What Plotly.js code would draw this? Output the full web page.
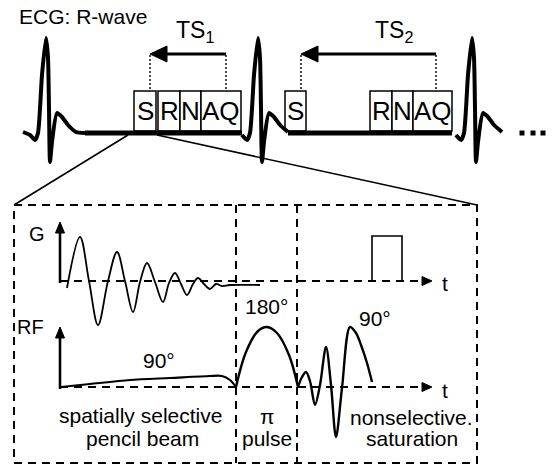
<!DOCTYPE html>
<html><head><meta charset="utf-8">
<script src="https://cdn.plot.ly/plotly-3.0.1.min.js"></script>
<style>html,body{margin:0;padding:0;background:#fff;}</style>
</head><body>
<div id="chart" style="width:557px;height:466px;"></div>
<script>
// ---- ECG trace (one beat template: x offset from R peak, y) ----
const ecgDx = [-23,-16,-11,-8,-4,0,2,3,4,6,11,16,22,30,39];
const ecgY  = [132,135,140,133,75,38,58,108,162,142,113,117,125,132,133];
const beatPeakX = [46, 258, 472];
const beatFrom  = [-23, -16, -20];
const beatTo    = [39, 30, 31];
const baselineStart = [85, 288];
const baselineEnd   = [242, 452];
const baselineY = 133;
const continueDotsX = [522, 533, 543];

// ---- sequence blocks ----
const blockLabels = ['S','R','N','AQ','S','R','N','AQ'];
const blockLeft   = [134,158,180,201,285,370,392,413];
const blockRight  = [156,180,201,241,306,392,413,452];
const blockTop = 91, blockBottom = 131;

// ---- TS arrows ----
const tsLabels = ['TS<sub>1</sub>','TS<sub>2</sub>'];
const tsLabelX = [195, 394];
const tsHeadX  = [150, 301];
const tsTailX  = [226, 436];
const tsArrowY = 54;

// ---- zoom panel ----
const zoomFromX = [128, 157];
const zoomToX   = [14, 477];
const zoomFromY = 135, zoomToY = 205;
const panelX = [14, 477, 477, 14, 14];
const panelY = [205, 205, 463, 463, 205];
const dividerX = [236, 297];

// ---- axes ----
const axisLabels = ['G','RF'];
const axisLabelX = [37, 30];
const axisLabelY = [234, 327];
const axisBaseY = [281, 387];
const axisTopY  = [222, 327];
const axisStartX = 60, axisEndX = 420, axisTipX = 432;

// ---- gradient waveform ----
const gX = [67,80,89,98,108,117,125,133,140,147,155,163,169,175,181,187,193,198,204,210,216,222,230,260];
const gY = [288,237,281,325,281,252,281,312,282,263,282,302,283,273,284,295,284,278,284,289,284,286,285,285];
const gateX = [372,372,402,402];
const gateY = [281,236,236,281];

// ---- RF waveforms ----
const rf90X  = [61,90,130,170,210,222,230,236];
const rf90Y  = [387,384,380,378,376,376,380,387];
const rf180X = [236,246,258,267,277,289,298];
const rf180Y = [387,352,331,327,333,355,387];
const rfSatX = [298,302,306,310,315,320,326,331,336,342,350,356,361,367,372];
const rfSatY = [387,377,372,381,405,385,347,385,437,388,327,333,345,363,382];

// ---- labels ----
const textLabels = ['90°','180°','90°','t','t','spatially selective','pencil beam','π','pulse','nonselective.','saturation'];
const textX = [159,266,375,445,445,140,142,267,267,411,412];
const textY = [360,306,318,283,390,415,438,416,438,417,438];

const FONT = 'Liberation Sans, Arial, sans-serif';
const traces = [];
function line(x, y, w, extra) {
  traces.push(Object.assign({type:'scatter', mode:'lines', x:x, y:y,
    line:{color:'black', width:w}, hoverinfo:'skip'}, extra || {}));
}
// filled arrow head: tip point, direction (unit vector), length, half width
function head(tx, ty, dx, dy, len, hw) {
  const bx = tx - dx*len, by = ty - dy*len;
  const px = -dy, py = dx;
  traces.push({type:'scatter', mode:'lines', fill:'toself', fillcolor:'black',
    x:[tx, bx+px*hw, bx-px*hw, tx], y:[ty, by+py*hw, by-py*hw, ty],
    line:{color:'black', width:1}, hoverinfo:'skip'});
}

const DASH = '8px,6px';
// panel (dashed)
line(panelX, panelY, 2, {line:{color:'black', width:2, dash:DASH}});
dividerX.forEach(d => line([d,d],[panelY[0],panelY[2]],2,{line:{color:'black',width:2,dash:DASH}}));
axisBaseY.forEach(yb => line([axisStartX, axisEndX],[yb,yb],2,{line:{color:'black',width:2,dash:DASH}}));
// zoom lines
for (let i=0;i<2;i++) line([zoomFromX[i], zoomToX[i]],[zoomFromY, zoomToY],1.6);
// waveforms
line(gX, gY, 1.8, {line:{color:'black', width:1.8, shape:'spline', smoothing:1}});
line(gateX, gateY, 1.6);
line(rf90X, rf90Y, 2.2, {line:{color:'black', width:2.2, shape:'spline', smoothing:0.8}});
line(rf180X, rf180Y, 2.4, {line:{color:'black', width:2.4, shape:'spline', smoothing:1}});
line(rfSatX, rfSatY, 2.4, {line:{color:'black', width:2.4, shape:'spline', smoothing:0.9}});
// axis arrows
for (let i=0;i<2;i++) {
  line([axisStartX, axisStartX],[axisBaseY[i]+2, axisTopY[i]+9], 2.6);
  head(axisStartX, axisTopY[i], 0, -1, 11, 4.5);
  head(axisTipX, axisBaseY[i], 1, 0, 10, 4.5);
}
// dotted TS markers + arrows
for (let i=0;i<2;i++) {
  [tsHeadX[i], tsTailX[i]].forEach(xx => line([xx,xx],[tsArrowY+1, blockTop-1],1.4,{line:{color:'black',width:1.4,dash:'2px,2px'}}));
  line([tsTailX[i], tsHeadX[i]+14],[tsArrowY, tsArrowY], 3);
  head(tsHeadX[i], tsArrowY, -1, 0, 17, 8);
}
// blocks
for (let i=0;i<blockLabels.length;i++) {
  line([blockLeft[i],blockRight[i],blockRight[i],blockLeft[i],blockLeft[i]],
       [blockBottom,blockBottom,blockTop,blockTop,blockBottom],1.5,
       {fill:'toself', fillcolor:'white'});
}
// ECG
for (let b=0;b<beatPeakX.length;b++) {
  const xs=[], ys=[];
  for (let k=0;k<ecgDx.length;k++) {
    if (ecgDx[k] >= beatFrom[b] && ecgDx[k] <= beatTo[b]) { xs.push(beatPeakX[b]+ecgDx[k]); ys.push(ecgY[k]); }
  }
  line(xs, ys, 4, {line:{color:'black', width:4, shape:'spline', smoothing:0.6}});
}
for (let i=0;i<baselineStart.length;i++) line([baselineStart[i], baselineEnd[i]],[baselineY, baselineY],5);
traces.push({type:'scatter', mode:'markers', x:continueDotsX, y:continueDotsX.map(()=>baselineY),
  marker:{symbol:'square', size:5, color:'black'}, hoverinfo:'skip'});

// text labels
const ann = [];
function label(t, x, y, size, extra) {
  ann.push(Object.assign({x:x, y:y, xref:'x', yref:'y', text:t, showarrow:false,
    xanchor:'center', yanchor:'middle', font:{family:FONT, size:size, color:'black'}}, extra || {}));
}
for (let i=0;i<2;i++) label(tsLabels[i], tsLabelX[i], 31, 23);
for (let i=0;i<2;i++) label(axisLabels[i], axisLabelX[i], axisLabelY[i], 20);
for (let i=0;i<blockLabels.length;i++) label(blockLabels[i], (blockLeft[i]+blockRight[i])/2, 111, 26);
label('ECG: R-wave', 83, 16, 21);
for (let i=0;i<textLabels.length;i++) label(textLabels[i], textX[i], textY[i], 21);

Plotly.newPlot('chart', traces, {
  width:557, height:466, margin:{l:0,r:0,t:0,b:0},
  paper_bgcolor:'white', plot_bgcolor:'white', showlegend:false,
  xaxis:{range:[0,557], visible:false, fixedrange:true},
  yaxis:{range:[466,0], visible:false, fixedrange:true},
  annotations: ann
}, {staticPlot:true, displayModeBar:false});
</script>
</body></html>
